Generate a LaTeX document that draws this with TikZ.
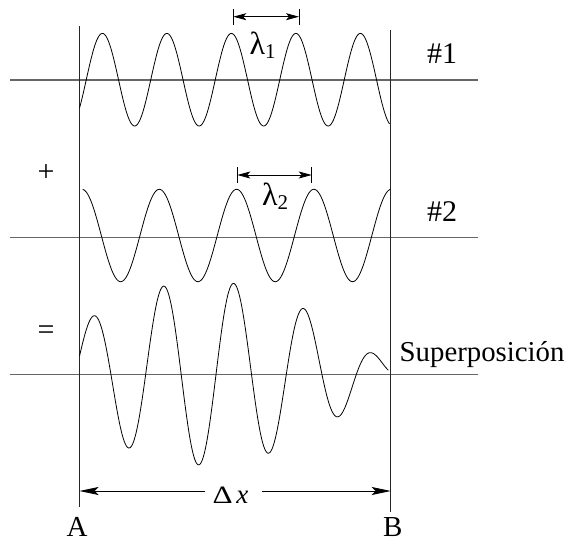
\documentclass[tikz,border=0pt]{standalone}
\usepackage{fontspec}
\setmainfont{Liberation Serif}
\usetikzlibrary{arrows.meta}
\begin{document}
\begin{tikzpicture}[x=1pt,y=-1pt,
  axis/.style={draw=black!60, line width=1.1pt},
  vline/.style={draw=black!85, line width=0.9pt},
  wave/.style={draw=black, line width=0.8pt, line join=round},
  dxarrow/.style={line width=0.8pt, -{Stealth[length=19pt,width=8pt,inset=4pt]}},
  dimarrow/.style={line width=0.8pt, {Stealth[length=13pt,width=7pt,inset=3pt]}-{Stealth[length=13pt,width=7pt,inset=3pt]}},
  bar/.style={line width=0.8pt},
  lab/.style={inner sep=0pt, anchor=base west, font=\fontsize{29}{29}\selectfont}
]
\useasboundingbox (0,0) rectangle (566,539);

% axes
\coordinate (h1a) at (10,80);    \coordinate (h1b) at (478,80);
\coordinate (h2a) at (10,237.3); \coordinate (h2b) at (478,237.3);
\coordinate (h3a) at (10,374.5); \coordinate (h3b) at (478,374.5);
\draw[axis] (h1a) -- (h1b);
\draw[axis] (h2a) -- (h2b);
\draw[axis] (h3a) -- (h3b);

% vertical limits
\coordinate (At) at (79.5,26);  \coordinate (Ab) at (79.5,507);
\coordinate (Bt) at (390.7,30); \coordinate (Bb) at (390.7,512);
\draw[vline] (At) -- (Ab);
\draw[vline] (Bt) -- (Bb);

% waves
\draw[wave] plot[domain=79.5:389.5, samples=300] (\x, {79.7 - 46.3*cos(5.5814*(\x-102.4))});
\draw[wave] plot[domain=82.7:390.7, samples=300] (\x, {235.5 - 46.2*cos(4.6572*(\x-82))});
\draw[wave] plot[domain=79.5:388.3, samples=400] (\x, {373 - 46*cos(5.5814*(\x-102.4)) - 46*cos(4.6572*(\x-82))});

% lambda 1
\coordinate (l1a) at (233.3,16.7); \coordinate (l1b) at (299,16.7);
\coordinate (l1at) at (233.3,9.3); \coordinate (l1ab) at (233.3,25);
\coordinate (l1bt) at (299,9.3);   \coordinate (l1bb) at (299,25);
\draw[bar] (l1at) -- (l1ab);
\draw[bar] (l1bt) -- (l1bb);
\draw[dimarrow] (l1a) -- (l1b);
\node[inner sep=0pt, anchor=base west] (lam1) at (249.5,54)
  {\fontsize{32}{32}\selectfont λ\raisebox{-4.5pt}{\fontsize{21}{21}\selectfont 1}};

% lambda 2
\coordinate (l2a) at (237.3,175); \coordinate (l2b) at (311.7,175);
\coordinate (l2at) at (237.3,167); \coordinate (l2ab) at (237.3,183);
\coordinate (l2bt) at (311.7,167); \coordinate (l2bb) at (311.7,183);
\draw[bar] (l2at) -- (l2ab);
\draw[bar] (l2bt) -- (l2bb);
\draw[dimarrow] (l2a) -- (l2b);
\node[inner sep=0pt, anchor=base west] (lam2) at (262,205)
  {\fontsize{32}{32}\selectfont λ\raisebox{-4.5pt}{\fontsize{21}{21}\selectfont 2}};

% labels
\node[lab, font=\fontsize{30}{30}\selectfont] (n1) at (427,63) {\#1};
\node[lab, font=\fontsize{30}{30}\selectfont] (n2) at (427,221) {\#2};
\node[lab, font=\fontsize{28.8}{28.8}\selectfont] (sup) at (399.5,361) {Superposición};
\node[lab, font=\fontsize{30}{30}\selectfont] (plus) at (37.5,181) {+};
\node[lab, font=\fontsize{30}{30}\selectfont] (eq) at (37.5,339) {=};
\node[lab, text depth=0pt] (A) at (66.5,536) {A};
\node[lab, text depth=0pt] (B) at (383,536) {B};

% delta x
\coordinate (dxL) at (79.5,491); \coordinate (dxR) at (390.7,491);
\node[inner sep=0pt, anchor=base west, text depth=0pt] (dx) at (212.5,503.3)
  {\fontsize{25}{25}\selectfont\scalebox{1.25}[1]{Δ}\hspace{3.5pt}{\fontsize{27}{27}\selectfont\itshape x}};
\coordinate (dxl) at (205,491); \coordinate (dxr) at (262,491);
\draw[dxarrow] (dxl) -- (dxL);
\draw[dxarrow] (dxr) -- (dxR);
\end{tikzpicture}
\end{document}
